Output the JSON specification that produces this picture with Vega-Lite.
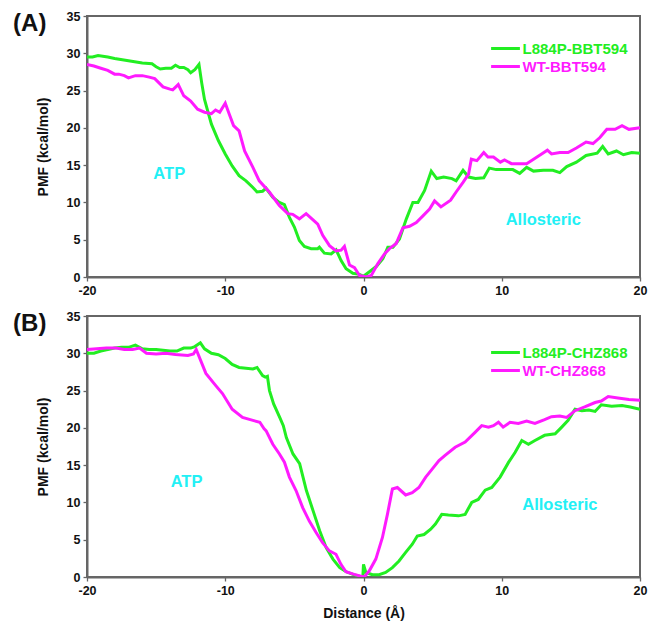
{
  "$schema": "https://vega.github.io/schema/vega-lite/v6.json",
  "background": "white",
  "padding": {"left": 12, "top": 9, "right": 2, "bottom": 0},
  "bounds": "flush",
  "spacing": 39,
  "config": {
    "font": "Liberation Sans",
    "view": {"stroke": "#666", "strokeWidth": 2},
    "axis": {
      "labelFont": "Liberation Sans", "labelFontWeight": "bold", "labelFontSize": 12.5, "labelColor": "#111",
      "titleFont": "Liberation Sans", "titleFontWeight": "bold", "titleFontSize": 14, "titleColor": "#111",
      "domainColor": "#666", "domainWidth": 2, "tickColor": "#666", "tickSize": 4, "tickWidth": 1.3,
      "labelPadding": 3, "grid": false, "labelFlush": false, "labelOverlap": false
    },
    "legend": {"labelFont": "Liberation Sans"}
  },
  "datasets": {
    "A": [
      {"x": -20, "pmf": 29.5, "series": "L884P-BBT594"}, {"x": -19.6, "pmf": 29.5, "series": "L884P-BBT594"}, {"x": -19.2, "pmf": 29.7, "series": "L884P-BBT594"}, {"x": -18.5, "pmf": 29.5, "series": "L884P-BBT594"}, {"x": -18, "pmf": 29.3, "series": "L884P-BBT594"}, {"x": -17, "pmf": 29.0, "series": "L884P-BBT594"}, {"x": -16, "pmf": 28.7, "series": "L884P-BBT594"}, {"x": -15.3, "pmf": 28.6, "series": "L884P-BBT594"}, {"x": -15, "pmf": 28.2, "series": "L884P-BBT594"}, {"x": -14.7, "pmf": 27.9, "series": "L884P-BBT594"}, {"x": -14.3, "pmf": 28.0, "series": "L884P-BBT594"}, {"x": -13.9, "pmf": 28.0, "series": "L884P-BBT594"}, {"x": -13.6, "pmf": 28.4, "series": "L884P-BBT594"}, {"x": -13.3, "pmf": 28.1, "series": "L884P-BBT594"}, {"x": -13, "pmf": 28.1, "series": "L884P-BBT594"}, {"x": -12.7, "pmf": 27.8, "series": "L884P-BBT594"}, {"x": -12.5, "pmf": 27.4, "series": "L884P-BBT594"}, {"x": -12.2, "pmf": 27.8, "series": "L884P-BBT594"}, {"x": -11.9, "pmf": 28.5, "series": "L884P-BBT594"}, {"x": -11.7, "pmf": 26.0, "series": "L884P-BBT594"}, {"x": -11.5, "pmf": 23.8, "series": "L884P-BBT594"}, {"x": -11.2, "pmf": 21.8, "series": "L884P-BBT594"}, {"x": -11, "pmf": 20.5, "series": "L884P-BBT594"}, {"x": -10.5, "pmf": 18.3, "series": "L884P-BBT594"}, {"x": -10, "pmf": 16.5, "series": "L884P-BBT594"}, {"x": -9.5, "pmf": 14.9, "series": "L884P-BBT594"}, {"x": -9, "pmf": 13.6, "series": "L884P-BBT594"}, {"x": -8.5, "pmf": 12.9, "series": "L884P-BBT594"}, {"x": -8, "pmf": 12.0, "series": "L884P-BBT594"}, {"x": -7.7, "pmf": 11.4, "series": "L884P-BBT594"}, {"x": -7.3, "pmf": 11.5, "series": "L884P-BBT594"}, {"x": -7.05, "pmf": 11.9, "series": "L884P-BBT594"}, {"x": -6.57, "pmf": 10.7, "series": "L884P-BBT594"}, {"x": -6.09, "pmf": 10.0, "series": "L884P-BBT594"}, {"x": -5.72, "pmf": 9.7, "series": "L884P-BBT594"}, {"x": -5.36, "pmf": 8.0, "series": "L884P-BBT594"}, {"x": -5.0, "pmf": 6.7, "series": "L884P-BBT594"}, {"x": -4.64, "pmf": 4.9, "series": "L884P-BBT594"}, {"x": -4.28, "pmf": 4.1, "series": "L884P-BBT594"}, {"x": -3.79, "pmf": 3.8, "series": "L884P-BBT594"}, {"x": -3.31, "pmf": 3.8, "series": "L884P-BBT594"}, {"x": -3.19, "pmf": 4.0, "series": "L884P-BBT594"}, {"x": -2.83, "pmf": 3.2, "series": "L884P-BBT594"}, {"x": -2.34, "pmf": 3.1, "series": "L884P-BBT594"}, {"x": -1.98, "pmf": 3.65, "series": "L884P-BBT594"}, {"x": -1.62, "pmf": 2.2, "series": "L884P-BBT594"}, {"x": -1.26, "pmf": 1.1, "series": "L884P-BBT594"}, {"x": -0.77, "pmf": 0.5, "series": "L884P-BBT594"}, {"x": -0.29, "pmf": 0.35, "series": "L884P-BBT594"}, {"x": 0, "pmf": 0.1, "series": "L884P-BBT594"}, {"x": 0.43, "pmf": 0.7, "series": "L884P-BBT594"}, {"x": 0.92, "pmf": 1.4, "series": "L884P-BBT594"}, {"x": 1.4, "pmf": 2.45, "series": "L884P-BBT594"}, {"x": 1.76, "pmf": 4.0, "series": "L884P-BBT594"}, {"x": 2.13, "pmf": 4.0, "series": "L884P-BBT594"}, {"x": 2.6, "pmf": 5.1, "series": "L884P-BBT594"}, {"x": 3.1, "pmf": 7.8, "series": "L884P-BBT594"}, {"x": 3.57, "pmf": 10.0, "series": "L884P-BBT594"}, {"x": 3.94, "pmf": 10.0, "series": "L884P-BBT594"}, {"x": 4.42, "pmf": 11.6, "series": "L884P-BBT594"}, {"x": 4.9, "pmf": 14.2, "series": "L884P-BBT594"}, {"x": 5.3, "pmf": 13.2, "series": "L884P-BBT594"}, {"x": 5.8, "pmf": 13.4, "series": "L884P-BBT594"}, {"x": 6.4, "pmf": 13.2, "series": "L884P-BBT594"}, {"x": 6.7, "pmf": 12.9, "series": "L884P-BBT594"}, {"x": 7.2, "pmf": 14.3, "series": "L884P-BBT594"}, {"x": 7.6, "pmf": 13.4, "series": "L884P-BBT594"}, {"x": 8.1, "pmf": 13.2, "series": "L884P-BBT594"}, {"x": 8.7, "pmf": 13.3, "series": "L884P-BBT594"}, {"x": 9.1, "pmf": 14.6, "series": "L884P-BBT594"}, {"x": 9.6, "pmf": 14.4, "series": "L884P-BBT594"}, {"x": 10.4, "pmf": 14.4, "series": "L884P-BBT594"}, {"x": 10.8, "pmf": 14.4, "series": "L884P-BBT594"}, {"x": 11.3, "pmf": 13.9, "series": "L884P-BBT594"}, {"x": 11.8, "pmf": 14.7, "series": "L884P-BBT594"}, {"x": 12.3, "pmf": 14.2, "series": "L884P-BBT594"}, {"x": 13.0, "pmf": 14.3, "series": "L884P-BBT594"}, {"x": 13.7, "pmf": 14.3, "series": "L884P-BBT594"}, {"x": 14.2, "pmf": 14.0, "series": "L884P-BBT594"}, {"x": 14.7, "pmf": 14.8, "series": "L884P-BBT594"}, {"x": 15.4, "pmf": 15.4, "series": "L884P-BBT594"}, {"x": 16.1, "pmf": 16.3, "series": "L884P-BBT594"}, {"x": 16.9, "pmf": 16.6, "series": "L884P-BBT594"}, {"x": 17.3, "pmf": 17.5, "series": "L884P-BBT594"}, {"x": 17.7, "pmf": 16.5, "series": "L884P-BBT594"}, {"x": 18.3, "pmf": 16.9, "series": "L884P-BBT594"}, {"x": 18.8, "pmf": 16.4, "series": "L884P-BBT594"}, {"x": 19.4, "pmf": 16.7, "series": "L884P-BBT594"}, {"x": 20, "pmf": 16.6, "series": "L884P-BBT594"},
      {"x": -20, "pmf": 28.5, "series": "WT-BBT594"}, {"x": -19.5, "pmf": 28.3, "series": "WT-BBT594"}, {"x": -19, "pmf": 28.0, "series": "WT-BBT594"}, {"x": -18.5, "pmf": 27.7, "series": "WT-BBT594"}, {"x": -18, "pmf": 27.2, "series": "WT-BBT594"}, {"x": -17.7, "pmf": 27.2, "series": "WT-BBT594"}, {"x": -17.3, "pmf": 27.0, "series": "WT-BBT594"}, {"x": -17, "pmf": 26.7, "series": "WT-BBT594"}, {"x": -16.5, "pmf": 27.0, "series": "WT-BBT594"}, {"x": -16, "pmf": 27.0, "series": "WT-BBT594"}, {"x": -15.5, "pmf": 26.8, "series": "WT-BBT594"}, {"x": -15.1, "pmf": 26.6, "series": "WT-BBT594"}, {"x": -14.5, "pmf": 25.5, "series": "WT-BBT594"}, {"x": -14, "pmf": 25.2, "series": "WT-BBT594"}, {"x": -13.8, "pmf": 25.1, "series": "WT-BBT594"}, {"x": -13.4, "pmf": 25.8, "series": "WT-BBT594"}, {"x": -13, "pmf": 24.3, "series": "WT-BBT594"}, {"x": -12.5, "pmf": 23.6, "series": "WT-BBT594"}, {"x": -12, "pmf": 22.5, "series": "WT-BBT594"}, {"x": -11.5, "pmf": 22.1, "series": "WT-BBT594"}, {"x": -11, "pmf": 21.9, "series": "WT-BBT594"}, {"x": -10.7, "pmf": 22.4, "series": "WT-BBT594"}, {"x": -10.4, "pmf": 22.1, "series": "WT-BBT594"}, {"x": -10, "pmf": 23.3, "series": "WT-BBT594"}, {"x": -9.7, "pmf": 21.8, "series": "WT-BBT594"}, {"x": -9.4, "pmf": 20.3, "series": "WT-BBT594"}, {"x": -9, "pmf": 19.6, "series": "WT-BBT594"}, {"x": -8.6, "pmf": 16.9, "series": "WT-BBT594"}, {"x": -8, "pmf": 14.7, "series": "WT-BBT594"}, {"x": -7.54, "pmf": 12.9, "series": "WT-BBT594"}, {"x": -6.81, "pmf": 11.4, "series": "WT-BBT594"}, {"x": -6.09, "pmf": 9.6, "series": "WT-BBT594"}, {"x": -5.48, "pmf": 8.5, "series": "WT-BBT594"}, {"x": -5.12, "pmf": 8.4, "series": "WT-BBT594"}, {"x": -4.64, "pmf": 7.8, "series": "WT-BBT594"}, {"x": -4.15, "pmf": 8.5, "series": "WT-BBT594"}, {"x": -3.67, "pmf": 7.7, "series": "WT-BBT594"}, {"x": -3.31, "pmf": 7.1, "series": "WT-BBT594"}, {"x": -2.95, "pmf": 5.6, "series": "WT-BBT594"}, {"x": -2.46, "pmf": 4.2, "series": "WT-BBT594"}, {"x": -1.98, "pmf": 3.5, "series": "WT-BBT594"}, {"x": -1.62, "pmf": 3.6, "series": "WT-BBT594"}, {"x": -1.38, "pmf": 4.1, "series": "WT-BBT594"}, {"x": -1.01, "pmf": 1.6, "series": "WT-BBT594"}, {"x": -0.65, "pmf": 1.25, "series": "WT-BBT594"}, {"x": -0.29, "pmf": 0.2, "series": "WT-BBT594"}, {"x": 0.19, "pmf": 0.0, "series": "WT-BBT594"}, {"x": 0.56, "pmf": 0.2, "series": "WT-BBT594"}, {"x": 1.04, "pmf": 1.8, "series": "WT-BBT594"}, {"x": 1.52, "pmf": 3.1, "series": "WT-BBT594"}, {"x": 1.88, "pmf": 3.8, "series": "WT-BBT594"}, {"x": 2.37, "pmf": 4.5, "series": "WT-BBT594"}, {"x": 2.85, "pmf": 6.6, "series": "WT-BBT594"}, {"x": 3.33, "pmf": 6.8, "series": "WT-BBT594"}, {"x": 3.82, "pmf": 7.3, "series": "WT-BBT594"}, {"x": 4.3, "pmf": 8.2, "series": "WT-BBT594"}, {"x": 4.78, "pmf": 9.1, "series": "WT-BBT594"}, {"x": 5.14, "pmf": 10.2, "series": "WT-BBT594"}, {"x": 5.6, "pmf": 9.4, "series": "WT-BBT594"}, {"x": 6.3, "pmf": 10.3, "series": "WT-BBT594"}, {"x": 6.7, "pmf": 11.4, "series": "WT-BBT594"}, {"x": 7.2, "pmf": 12.7, "series": "WT-BBT594"}, {"x": 7.6, "pmf": 13.8, "series": "WT-BBT594"}, {"x": 7.8, "pmf": 15.8, "series": "WT-BBT594"}, {"x": 8.2, "pmf": 15.6, "series": "WT-BBT594"}, {"x": 8.7, "pmf": 16.7, "series": "WT-BBT594"}, {"x": 9.0, "pmf": 16.1, "series": "WT-BBT594"}, {"x": 9.4, "pmf": 16.1, "series": "WT-BBT594"}, {"x": 9.9, "pmf": 15.4, "series": "WT-BBT594"}, {"x": 10.2, "pmf": 15.7, "series": "WT-BBT594"}, {"x": 10.7, "pmf": 15.2, "series": "WT-BBT594"}, {"x": 11.3, "pmf": 15.2, "series": "WT-BBT594"}, {"x": 11.8, "pmf": 15.2, "series": "WT-BBT594"}, {"x": 12.3, "pmf": 15.8, "series": "WT-BBT594"}, {"x": 12.8, "pmf": 16.4, "series": "WT-BBT594"}, {"x": 13.3, "pmf": 17.0, "series": "WT-BBT594"}, {"x": 13.6, "pmf": 16.5, "series": "WT-BBT594"}, {"x": 14.2, "pmf": 16.7, "series": "WT-BBT594"}, {"x": 14.8, "pmf": 16.7, "series": "WT-BBT594"}, {"x": 15.4, "pmf": 17.3, "series": "WT-BBT594"}, {"x": 16.1, "pmf": 18.1, "series": "WT-BBT594"}, {"x": 16.6, "pmf": 17.9, "series": "WT-BBT594"}, {"x": 17.1, "pmf": 18.7, "series": "WT-BBT594"}, {"x": 17.6, "pmf": 19.8, "series": "WT-BBT594"}, {"x": 18.2, "pmf": 19.8, "series": "WT-BBT594"}, {"x": 18.7, "pmf": 20.3, "series": "WT-BBT594"}, {"x": 19.2, "pmf": 19.8, "series": "WT-BBT594"}, {"x": 20, "pmf": 20.0, "series": "WT-BBT594"}
    ],
    "B": [
      {"x": -20, "pmf": 30.0, "series": "L884P-CHZ868"}, {"x": -19.5, "pmf": 30.0, "series": "L884P-CHZ868"}, {"x": -19, "pmf": 30.3, "series": "L884P-CHZ868"}, {"x": -18.5, "pmf": 30.5, "series": "L884P-CHZ868"}, {"x": -18, "pmf": 30.7, "series": "L884P-CHZ868"}, {"x": -17.5, "pmf": 30.8, "series": "L884P-CHZ868"}, {"x": -17, "pmf": 30.8, "series": "L884P-CHZ868"}, {"x": -16.5, "pmf": 31.1, "series": "L884P-CHZ868"}, {"x": -16, "pmf": 30.6, "series": "L884P-CHZ868"}, {"x": -15.5, "pmf": 30.5, "series": "L884P-CHZ868"}, {"x": -15, "pmf": 30.5, "series": "L884P-CHZ868"}, {"x": -14.5, "pmf": 30.4, "series": "L884P-CHZ868"}, {"x": -14, "pmf": 30.3, "series": "L884P-CHZ868"}, {"x": -13.5, "pmf": 30.3, "series": "L884P-CHZ868"}, {"x": -13, "pmf": 30.7, "series": "L884P-CHZ868"}, {"x": -12.5, "pmf": 30.7, "series": "L884P-CHZ868"}, {"x": -12.2, "pmf": 30.9, "series": "L884P-CHZ868"}, {"x": -11.8, "pmf": 31.4, "series": "L884P-CHZ868"}, {"x": -11.5, "pmf": 30.6, "series": "L884P-CHZ868"}, {"x": -11, "pmf": 30.0, "series": "L884P-CHZ868"}, {"x": -10.5, "pmf": 29.8, "series": "L884P-CHZ868"}, {"x": -10, "pmf": 29.3, "series": "L884P-CHZ868"}, {"x": -9.5, "pmf": 28.5, "series": "L884P-CHZ868"}, {"x": -9, "pmf": 28.1, "series": "L884P-CHZ868"}, {"x": -8.5, "pmf": 28.0, "series": "L884P-CHZ868"}, {"x": -8, "pmf": 27.9, "series": "L884P-CHZ868"}, {"x": -7.7, "pmf": 28.1, "series": "L884P-CHZ868"}, {"x": -7.3, "pmf": 27.0, "series": "L884P-CHZ868"}, {"x": -7.1, "pmf": 26.8, "series": "L884P-CHZ868"}, {"x": -6.95, "pmf": 26.9, "series": "L884P-CHZ868"}, {"x": -6.8, "pmf": 25.0, "series": "L884P-CHZ868"}, {"x": -6.5, "pmf": 23.2, "series": "L884P-CHZ868"}, {"x": -6.06, "pmf": 21.4, "series": "L884P-CHZ868"}, {"x": -5.8, "pmf": 20.3, "series": "L884P-CHZ868"}, {"x": -5.58, "pmf": 18.7, "series": "L884P-CHZ868"}, {"x": -5.1, "pmf": 16.5, "series": "L884P-CHZ868"}, {"x": -4.62, "pmf": 15.2, "series": "L884P-CHZ868"}, {"x": -4.13, "pmf": 11.6, "series": "L884P-CHZ868"}, {"x": -3.65, "pmf": 8.9, "series": "L884P-CHZ868"}, {"x": -3.17, "pmf": 6.2, "series": "L884P-CHZ868"}, {"x": -2.69, "pmf": 3.9, "series": "L884P-CHZ868"}, {"x": -2.21, "pmf": 2.4, "series": "L884P-CHZ868"}, {"x": -1.72, "pmf": 1.25, "series": "L884P-CHZ868"}, {"x": -1.25, "pmf": 0.7, "series": "L884P-CHZ868"}, {"x": -0.77, "pmf": 0.35, "series": "L884P-CHZ868"}, {"x": -0.3, "pmf": 0.1, "series": "L884P-CHZ868"}, {"x": -0.05, "pmf": 0.0, "series": "L884P-CHZ868"}, {"x": 0, "pmf": 1.7, "series": "L884P-CHZ868"}, {"x": 0.17, "pmf": 0.6, "series": "L884P-CHZ868"}, {"x": 0.65, "pmf": 0.3, "series": "L884P-CHZ868"}, {"x": 1.13, "pmf": 0.3, "series": "L884P-CHZ868"}, {"x": 1.6, "pmf": 0.6, "series": "L884P-CHZ868"}, {"x": 2.09, "pmf": 1.25, "series": "L884P-CHZ868"}, {"x": 2.57, "pmf": 2.15, "series": "L884P-CHZ868"}, {"x": 3.05, "pmf": 3.3, "series": "L884P-CHZ868"}, {"x": 3.53, "pmf": 4.4, "series": "L884P-CHZ868"}, {"x": 3.89, "pmf": 5.5, "series": "L884P-CHZ868"}, {"x": 4.38, "pmf": 5.7, "series": "L884P-CHZ868"}, {"x": 4.86, "pmf": 6.4, "series": "L884P-CHZ868"}, {"x": 5.2, "pmf": 7.1, "series": "L884P-CHZ868"}, {"x": 5.66, "pmf": 8.4, "series": "L884P-CHZ868"}, {"x": 6.14, "pmf": 8.3, "series": "L884P-CHZ868"}, {"x": 6.87, "pmf": 8.2, "series": "L884P-CHZ868"}, {"x": 7.35, "pmf": 8.4, "series": "L884P-CHZ868"}, {"x": 7.83, "pmf": 10.0, "series": "L884P-CHZ868"}, {"x": 8.3, "pmf": 10.4, "series": "L884P-CHZ868"}, {"x": 8.8, "pmf": 11.65, "series": "L884P-CHZ868"}, {"x": 9.28, "pmf": 12.0, "series": "L884P-CHZ868"}, {"x": 9.88, "pmf": 13.4, "series": "L884P-CHZ868"}, {"x": 10.5, "pmf": 15.4, "series": "L884P-CHZ868"}, {"x": 10.96, "pmf": 16.7, "series": "L884P-CHZ868"}, {"x": 11.45, "pmf": 18.3, "series": "L884P-CHZ868"}, {"x": 11.93, "pmf": 17.8, "series": "L884P-CHZ868"}, {"x": 12.4, "pmf": 18.3, "series": "L884P-CHZ868"}, {"x": 13.1, "pmf": 19.0, "series": "L884P-CHZ868"}, {"x": 13.86, "pmf": 19.2, "series": "L884P-CHZ868"}, {"x": 14.34, "pmf": 20.1, "series": "L884P-CHZ868"}, {"x": 14.8, "pmf": 21.0, "series": "L884P-CHZ868"}, {"x": 15.3, "pmf": 22.5, "series": "L884P-CHZ868"}, {"x": 15.8, "pmf": 22.3, "series": "L884P-CHZ868"}, {"x": 16.3, "pmf": 22.4, "series": "L884P-CHZ868"}, {"x": 16.75, "pmf": 22.2, "series": "L884P-CHZ868"}, {"x": 17.2, "pmf": 23.1, "series": "L884P-CHZ868"}, {"x": 17.95, "pmf": 22.9, "series": "L884P-CHZ868"}, {"x": 18.7, "pmf": 23.0, "series": "L884P-CHZ868"}, {"x": 19.3, "pmf": 22.8, "series": "L884P-CHZ868"}, {"x": 20, "pmf": 22.5, "series": "L884P-CHZ868"},
      {"x": -20, "pmf": 30.5, "series": "WT-CHZ868"}, {"x": -19.3, "pmf": 30.6, "series": "WT-CHZ868"}, {"x": -18.6, "pmf": 30.7, "series": "WT-CHZ868"}, {"x": -17.9, "pmf": 30.7, "series": "WT-CHZ868"}, {"x": -17.3, "pmf": 30.5, "series": "WT-CHZ868"}, {"x": -16.7, "pmf": 30.5, "series": "WT-CHZ868"}, {"x": -16.2, "pmf": 30.7, "series": "WT-CHZ868"}, {"x": -15.7, "pmf": 30.0, "series": "WT-CHZ868"}, {"x": -15.0, "pmf": 29.9, "series": "WT-CHZ868"}, {"x": -14.3, "pmf": 30.0, "series": "WT-CHZ868"}, {"x": -13.6, "pmf": 29.85, "series": "WT-CHZ868"}, {"x": -12.7, "pmf": 29.7, "series": "WT-CHZ868"}, {"x": -12.3, "pmf": 29.9, "series": "WT-CHZ868"}, {"x": -12.1, "pmf": 30.5, "series": "WT-CHZ868"}, {"x": -11.4, "pmf": 27.3, "series": "WT-CHZ868"}, {"x": -10.7, "pmf": 25.7, "series": "WT-CHZ868"}, {"x": -10.2, "pmf": 24.6, "series": "WT-CHZ868"}, {"x": -9.5, "pmf": 22.5, "series": "WT-CHZ868"}, {"x": -8.75, "pmf": 21.4, "series": "WT-CHZ868"}, {"x": -8.0, "pmf": 21.0, "series": "WT-CHZ868"}, {"x": -7.5, "pmf": 20.75, "series": "WT-CHZ868"}, {"x": -7.2, "pmf": 19.9, "series": "WT-CHZ868"}, {"x": -7.04, "pmf": 19.6, "series": "WT-CHZ868"}, {"x": -6.56, "pmf": 17.8, "series": "WT-CHZ868"}, {"x": -6.08, "pmf": 16.5, "series": "WT-CHZ868"}, {"x": -5.72, "pmf": 15.4, "series": "WT-CHZ868"}, {"x": -5.36, "pmf": 13.4, "series": "WT-CHZ868"}, {"x": -4.88, "pmf": 11.6, "series": "WT-CHZ868"}, {"x": -4.4, "pmf": 9.3, "series": "WT-CHZ868"}, {"x": -3.92, "pmf": 7.5, "series": "WT-CHZ868"}, {"x": -3.44, "pmf": 6.0, "series": "WT-CHZ868"}, {"x": -2.96, "pmf": 4.6, "series": "WT-CHZ868"}, {"x": -2.47, "pmf": 3.5, "series": "WT-CHZ868"}, {"x": -1.99, "pmf": 3.05, "series": "WT-CHZ868"}, {"x": -1.63, "pmf": 1.7, "series": "WT-CHZ868"}, {"x": -1.27, "pmf": 0.7, "series": "WT-CHZ868"}, {"x": -0.67, "pmf": 0.35, "series": "WT-CHZ868"}, {"x": -0.19, "pmf": 0.1, "series": "WT-CHZ868"}, {"x": 0.05, "pmf": 0.0, "series": "WT-CHZ868"}, {"x": 0.41, "pmf": 0.8, "series": "WT-CHZ868"}, {"x": 0.89, "pmf": 2.4, "series": "WT-CHZ868"}, {"x": 1.37, "pmf": 5.3, "series": "WT-CHZ868"}, {"x": 1.73, "pmf": 8.4, "series": "WT-CHZ868"}, {"x": 2.09, "pmf": 11.8, "series": "WT-CHZ868"}, {"x": 2.45, "pmf": 12.0, "series": "WT-CHZ868"}, {"x": 3.05, "pmf": 11.0, "series": "WT-CHZ868"}, {"x": 3.53, "pmf": 11.3, "series": "WT-CHZ868"}, {"x": 4.01, "pmf": 12.0, "series": "WT-CHZ868"}, {"x": 4.5, "pmf": 13.4, "series": "WT-CHZ868"}, {"x": 4.98, "pmf": 14.5, "series": "WT-CHZ868"}, {"x": 5.46, "pmf": 15.6, "series": "WT-CHZ868"}, {"x": 5.9, "pmf": 16.3, "series": "WT-CHZ868"}, {"x": 6.63, "pmf": 17.4, "series": "WT-CHZ868"}, {"x": 7.35, "pmf": 18.1, "series": "WT-CHZ868"}, {"x": 8.07, "pmf": 19.4, "series": "WT-CHZ868"}, {"x": 8.55, "pmf": 20.3, "series": "WT-CHZ868"}, {"x": 9.04, "pmf": 20.1, "series": "WT-CHZ868"}, {"x": 9.4, "pmf": 20.3, "series": "WT-CHZ868"}, {"x": 9.76, "pmf": 20.75, "series": "WT-CHZ868"}, {"x": 10.1, "pmf": 20.1, "series": "WT-CHZ868"}, {"x": 10.6, "pmf": 20.75, "series": "WT-CHZ868"}, {"x": 11.2, "pmf": 20.6, "series": "WT-CHZ868"}, {"x": 11.8, "pmf": 20.9, "series": "WT-CHZ868"}, {"x": 12.4, "pmf": 20.6, "series": "WT-CHZ868"}, {"x": 13.1, "pmf": 21.1, "series": "WT-CHZ868"}, {"x": 13.6, "pmf": 21.5, "series": "WT-CHZ868"}, {"x": 14.2, "pmf": 21.6, "series": "WT-CHZ868"}, {"x": 14.7, "pmf": 21.4, "series": "WT-CHZ868"}, {"x": 15.3, "pmf": 22.3, "series": "WT-CHZ868"}, {"x": 16.0, "pmf": 22.8, "series": "WT-CHZ868"}, {"x": 16.75, "pmf": 23.4, "series": "WT-CHZ868"}, {"x": 17.2, "pmf": 23.6, "series": "WT-CHZ868"}, {"x": 17.7, "pmf": 24.2, "series": "WT-CHZ868"}, {"x": 18.4, "pmf": 24.0, "series": "WT-CHZ868"}, {"x": 19.2, "pmf": 23.8, "series": "WT-CHZ868"}, {"x": 20, "pmf": 23.7, "series": "WT-CHZ868"}
    ],
    "labelsA": [{"x": -14.05, "pmf": 13.8, "label": "ATP"}, {"x": 13.0, "pmf": 7.6, "label": "Allosteric"}],
    "labelsB": [{"x": -12.8, "pmf": 12.7, "label": "ATP"}, {"x": 14.2, "pmf": 9.6, "label": "Allosteric"}]
  },
  "resolve": {"scale": {"color": "independent"}, "legend": {"color": "independent"}},
  "vconcat": [
    {
      "width": 553, "height": 261,
      "title": {"text": "(A)", "anchor": "start", "frame": "bounds", "orient": "top", "fontSize": 24, "fontWeight": "bold", "color": "#111", "font": "Liberation Sans", "baseline": "top", "offset": 0, "dx": -23, "dy": 26},
      "encoding": {
        "x": {"field": "x", "type": "quantitative", "scale": {"domain": [-20, 20], "nice": false},
              "axis": {"title": null, "labelOverlap": false, "values": [-20, -10, 0, 10, 20], "labelExpr": "'' + datum.value"}},
        "y": {"field": "pmf", "type": "quantitative", "scale": {"domain": [0, 35], "nice": false},
              "axis": {"title": "PMF (kcal/mol)", "titlePadding": 16, "labelOverlap": false, "values": [0, 5, 10, 15, 20, 25, 30, 35], "labelExpr": "'' + datum.value"}}
      },
      "layer": [
        {
          "data": {"name": "A"},
          "mark": {"type": "line", "strokeWidth": 3, "clip": true},
          "encoding": {
            "color": {"field": "series", "type": "nominal",
                      "scale": {"domain": ["L884P-BBT594", "WT-BBT594"], "range": ["#22EE22", "#FF1AFF"]},
                      "legend": {"title": null, "orient": "none", "legendX": 409, "legendY": 23, "padding": 0, "rowPadding": 0,
                                 "symbolType": "M-1.8,0H1.8", "symbolSize": 256, "symbolStrokeWidth": 3, "labelOffset": 7.5,
                                 "labelFontSize": 15, "labelFontWeight": "bold",
                                 "encode": {"labels": {"update": {"fill": {"signal": "indexof(datum.value, 'WT') === 0 ? '#FF1AFF' : '#22EE22'"}}}}}}
          }
        },
        {
          "data": {"name": "labelsA"},
          "mark": {"type": "text", "color": "#22F0F5", "fontSize": 16.5, "fontWeight": "bold", "font": "Liberation Sans"},
          "encoding": {"text": {"field": "label"}}
        }
      ]
    },
    {
      "width": 553, "height": 261,
      "title": {"text": "(B)", "anchor": "start", "frame": "bounds", "orient": "top", "fontSize": 24, "fontWeight": "bold", "color": "#111", "font": "Liberation Sans", "baseline": "top", "offset": 0, "dx": -23, "dy": 26},
      "encoding": {
        "x": {"field": "x", "type": "quantitative", "scale": {"domain": [-20, 20], "nice": false},
              "axis": {"title": "Distance (Å)", "titlePadding": 10, "labelOverlap": false, "values": [-20, -10, 0, 10, 20], "labelExpr": "'' + datum.value"}},
        "y": {"field": "pmf", "type": "quantitative", "scale": {"domain": [0, 35], "nice": false},
              "axis": {"title": "PMF (kcal/mol)", "titlePadding": 16, "labelOverlap": false, "values": [0, 5, 10, 15, 20, 25, 30, 35], "labelExpr": "'' + datum.value"}}
      },
      "layer": [
        {
          "data": {"name": "B"},
          "mark": {"type": "line", "strokeWidth": 3, "clip": true},
          "encoding": {
            "color": {"field": "series", "type": "nominal",
                      "scale": {"domain": ["L884P-CHZ868", "WT-CHZ868"], "range": ["#22EE22", "#FF1AFF"]},
                      "legend": {"title": null, "orient": "none", "legendX": 409, "legendY": 27, "padding": 0, "rowPadding": 0,
                                 "symbolType": "M-1.8,0H1.8", "symbolSize": 256, "symbolStrokeWidth": 3, "labelOffset": 7.5,
                                 "labelFontSize": 15, "labelFontWeight": "bold",
                                 "encode": {"labels": {"update": {"fill": {"signal": "indexof(datum.value, 'WT') === 0 ? '#FF1AFF' : '#22EE22'"}}}}}}
          }
        },
        {
          "data": {"name": "labelsB"},
          "mark": {"type": "text", "color": "#22F0F5", "fontSize": 16.5, "fontWeight": "bold", "font": "Liberation Sans"},
          "encoding": {"text": {"field": "label"}}
        }
      ]
    }
  ]
}
